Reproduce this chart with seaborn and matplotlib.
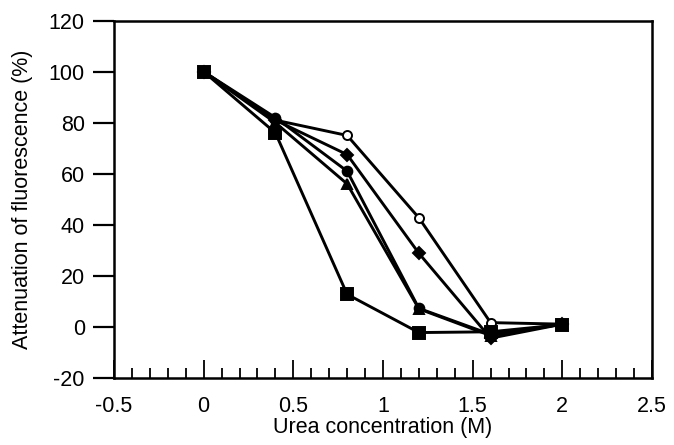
import matplotlib
matplotlib.use("Agg")
import matplotlib.pyplot as plt
import seaborn as sns
import pandas as pd
import numpy as np
from matplotlib.ticker import MultipleLocator

sns.set_theme(style="white")
plt.rcParams['font.family'] = ['Liberation Sans', 'DejaVu Sans']
plt.rcParams['axes.unicode_minus'] = False

urea = [0.0, 0.4, 0.8, 1.2, 1.6, 2.0]
open_circle = [100, 81, 75, 42.7, 1.6, 1.0]
filled_diamond = [100, 81, 67.5, 28.8, -4.5, 1.0]
filled_circle = [100, 82, 61, 7.2, -3.0, 1.0]
filled_triangle = [100, 80, 56, 7.0, -3.5, 1.0]
filled_square = [100, 76, 12.7, -2.3, -2.0, 0.8]

series = [
    ("open circle", open_circle, "o", "white", 6.5),
    ("diamond", filled_diamond, "D", "black", 6),
    ("circle", filled_circle, "o", "black", 7),
    ("triangle", filled_triangle, "^", "black", 7),
    ("square", filled_square, "s", "black", 8.5),
]

fig = plt.figure(figsize=(6.74, 4.45), dpi=100)
ax = fig.add_axes([114/674, 1-377.7/445, (652-114)/674, (377.7-20.7)/445])

for name, vals, mk, fc, ms in series:
    df = pd.DataFrame({"x": urea, "y": vals})
    sns.lineplot(data=df, x="x", y="y", ax=ax, color="black", linewidth=2.1,
                 marker=mk, markersize=ms, markerfacecolor=fc,
                 markeredgecolor="black", markeredgewidth=1.4, zorder=3)

FS = 15.5
ax.set_xlim(-0.5, 2.5)
ax.set_ylim(-20, 120)
ax.xaxis.set_minor_locator(MultipleLocator(0.1))
ax.yaxis.set_major_locator(MultipleLocator(20))
ax.set_xticks([-0.5, 0, 0.5, 1, 1.5, 2, 2.5])
ax.set_xticklabels(["-0.5", "0", "0.5", "1", "1.5", "2", "2.5"])
ax.tick_params(axis="x", which="major", direction="in", length=13, width=1.3,
               labelsize=FS, pad=13, bottom=True, top=False, color="black")
ax.tick_params(axis="x", which="minor", direction="in", length=7, width=1.3,
               bottom=True, top=False, color="black")
ax.tick_params(axis="y", which="major", direction="out", length=15, width=1.6,
               labelsize=FS, pad=6, left=True, right=False, color="black")

for s in ax.spines.values():
    s.set_visible(True)
    s.set_color("black")
    s.set_linewidth(1.8)

ax.set_xlabel("Urea concentration (M)", fontsize=FS, labelpad=0, color="black")
ax.set_ylabel("Attenuation of fluorescence (%)", fontsize=FS, labelpad=11, color="black")
ax.tick_params(colors="black")
ax.grid(False)

fig.savefig("out.png", dpi=100)
